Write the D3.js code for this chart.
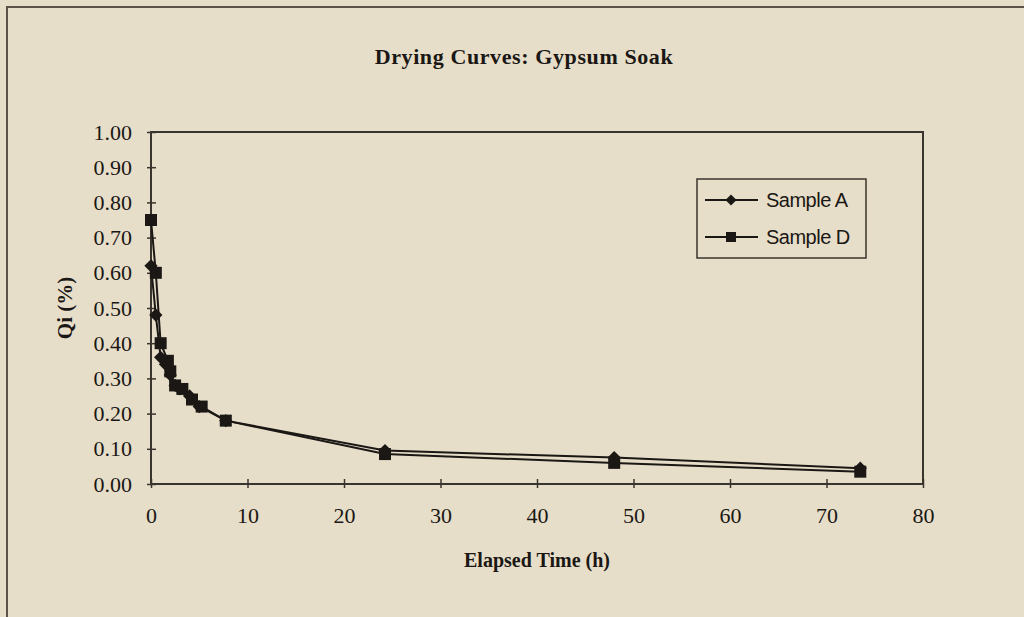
<!DOCTYPE html>
<html>
<head>
<meta charset="utf-8">
<title>Drying Curves: Gypsum Soak</title>
<script src="https://cdnjs.cloudflare.com/ajax/libs/d3/7.8.5/d3.min.js"></script>
<style>
    html, body { margin: 0; padding: 0; background: #e7dec9; }
    svg { display: block; }
</style>
</head>
<body>
<div id="chart"></div>
<script>
/*global d3*/
var hoursA = [0, 0.5, 1, 1.5, 2, 2.5, 3, 4, 5, 7.75, 24.25, 48, 73.5],
    sampleA = [0.62, 0.48, 0.36, 0.34, 0.31, 0.28, 0.27, 0.25, 0.22, 0.18, 0.095, 0.075, 0.045],
    hoursD = [0, 0.5, 1, 1.75, 2, 2.5, 3.25, 4.25, 5.25, 7.75, 24.25, 48, 73.5],
    sampleD = [0.75, 0.60, 0.40, 0.35, 0.32, 0.28, 0.27, 0.24, 0.22, 0.18, 0.085, 0.06, 0.035],
    seriesNames = ['Sample A', 'Sample D'],
    xTicks = [0, 10, 20, 30, 40, 50, 60, 70, 80],
    yTicks = [0, 0.1, 0.2, 0.3, 0.4, 0.5, 0.6, 0.7, 0.8, 0.9, 1.0];

(function () {
    'use strict';

    var width = 1024,
        height = 617,
        bg = '#e7dec9',
        ink = '#1a1714',
        axisInk = '#3a342e',
        serif = '"Liberation Serif", "Times New Roman", serif',
        plot = { left: 151, right: 923, top: 132, bottom: 484 },

        svg = d3.select('#chart')
            .append('svg')
            .attr('width', width)
            .attr('height', height),

        x = d3.scaleLinear().domain([0, 80]).range([plot.left, plot.right]),
        y = d3.scaleLinear().domain([0, 1]).range([plot.bottom, plot.top]),

        // excel style diamond = square turned 45 degrees
        series = [{
            name: seriesNames[0],
            size: 88,
            turn: 45,
            points: d3.zip(hoursA, sampleA)
        }, {
            name: seriesNames[1],
            size: 144,
            turn: 0,
            points: d3.zip(hoursD, sampleD)
        }],

        line = d3.line()
            .x(function (d) { return x(d[0]); })
            .y(function (d) { return y(d[1]); });

    // background + outer frame (only top and left edges fall inside the page)
    svg.append('rect')
        .attr('width', width)
        .attr('height', height)
        .style('fill', bg);
    svg.append('rect')
        .attr('x', 7)
        .attr('y', 7)
        .attr('width', 1060)
        .attr('height', 680)
        .style('fill', 'none')
        .style('stroke', '#5c544b')
        .style('stroke-width', '2px');

    // title
    svg.append('text')
        .attr('x', 524)
        .attr('y', 64)
        .attr('text-anchor', 'middle')
        .style('font-family', serif)
        .style('font-weight', 'bold')
        .style('font-size', '22px')
        .style('letter-spacing', '0.6px')
        .style('fill', ink)
        .text('Drying Curves: Gypsum Soak');

    // plot frame
    svg.append('rect')
        .attr('x', plot.left)
        .attr('y', plot.top)
        .attr('width', plot.right - plot.left)
        .attr('height', plot.bottom - plot.top)
        .style('fill', 'none')
        .style('stroke', axisInk)
        .style('stroke-width', '2px');

    // axes
    var xAxis = svg.append('g')
        .attr('transform', 'translate(0,' + plot.bottom + ')')
        .call(d3.axisBottom(x).tickValues(xTicks).tickSize(5).tickPadding(13)
            .tickFormat(d3.format('d')));
    var yAxis = svg.append('g')
        .attr('transform', 'translate(' + plot.left + ',0)')
        .call(d3.axisLeft(y).tickValues(yTicks).tickSize(5).tickPadding(14)
            .tickFormat(d3.format('.2f')));

    [xAxis, yAxis].forEach(function (g) {
        g.select('.domain').remove();
        g.selectAll('line')
            .style('stroke', axisInk)
            .style('stroke-width', '1.5px');
        g.selectAll('text')
            .style('font-family', serif)
            .style('font-size', '22px')
            .style('fill', ink);
    });
    // ticks cross the axis
    xAxis.selectAll('line').attr('y1', -5).attr('y2', 4);
    yAxis.selectAll('line').attr('x1', 5).attr('x2', -4);
    xAxis.selectAll('text').attr('dy', '0.95em');

    // axis titles
    svg.append('text')
        .attr('x', 537)
        .attr('y', 567)
        .attr('text-anchor', 'middle')
        .style('font-family', serif)
        .style('font-weight', 'bold')
        .style('font-size', '20px')
        .style('fill', ink)
        .text('Elapsed Time (h)');
    svg.append('text')
        .attr('transform', 'translate(72,308) rotate(-90)')
        .attr('text-anchor', 'middle')
        .style('font-family', serif)
        .style('font-weight', 'bold')
        .style('font-size', '21px')
        .style('fill', ink)
        .text('Qi (%)');

    // series
    series.forEach(function (s) {
        svg.append('path')
            .datum(s.points)
            .attr('d', line)
            .style('fill', 'none')
            .style('stroke', ink)
            .style('stroke-width', '2px');
        svg.selectAll(null)
            .data(s.points)
            .enter()
            .append('path')
            .attr('transform', function (d) {
                return 'translate(' + x(d[0]) + ',' + y(d[1]) + ') rotate(' + s.turn + ')';
            })
            .attr('d', d3.symbol().type(d3.symbolSquare).size(s.size))
            .style('fill', ink);
    });

    // legend
    var legend = svg.append('g').attr('transform', 'translate(697,179)');
    legend.append('rect')
        .attr('width', 169)
        .attr('height', 79)
        .style('fill', bg)
        .style('stroke', axisInk)
        .style('stroke-width', '1.5px');
    series.forEach(function (s, i) {
        var row = legend.append('g').attr('transform', 'translate(0,' + (21 + i * 37) + ')');
        row.append('line')
            .attr('x1', 8)
            .attr('x2', 61)
            .style('stroke', ink)
            .style('stroke-width', '2px');
        row.append('path')
            .attr('transform', 'translate(34,0) rotate(' + s.turn + ')')
            .attr('d', d3.symbol().type(d3.symbolSquare).size(s.size * 0.7))
            .style('fill', ink);
        row.append('text')
            .attr('x', 69)
            .attr('dy', '0.35em')
            .style('font-family', '"Liberation Sans", Arial, sans-serif')
            .style('font-size', '20px')
            .style('letter-spacing', '-0.5px')
            .style('fill', ink)
            .text(s.name);
    });
}());
</script>
</body>
</html>
